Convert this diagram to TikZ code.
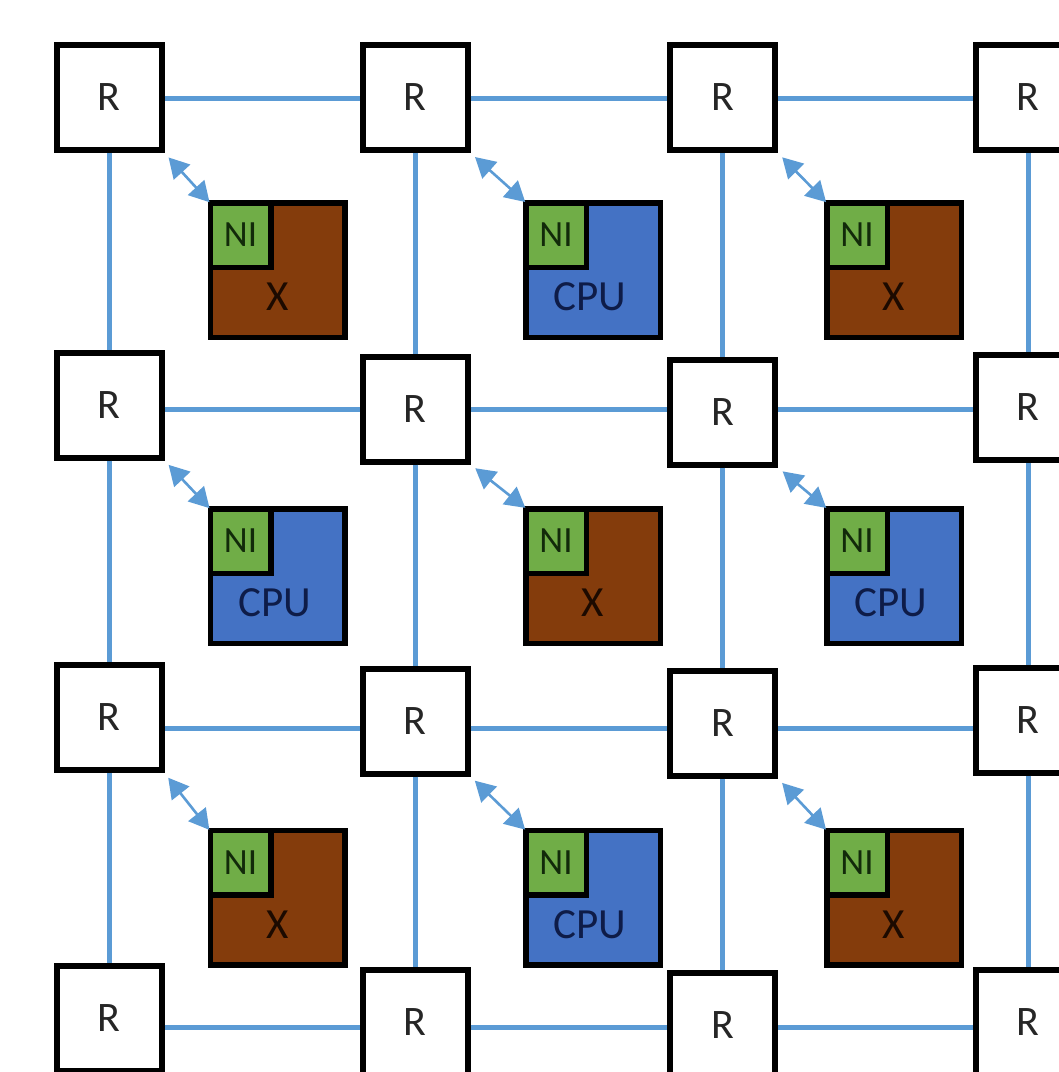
\documentclass[tikz,border=0pt]{standalone}
\usepackage{fontspec}
\setmainfont{Carlito}
\usetikzlibrary{arrows.meta}
\definecolor{linkblue}{HTML}{5B9BD5}
\definecolor{cpublue}{HTML}{4472C4}
\definecolor{xbrown}{HTML}{843C0C}
\definecolor{nigreen}{HTML}{70AD47}
\definecolor{nitext}{RGB}{18,42,10}
\definecolor{cputext}{RGB}{14,28,72}
\definecolor{xtext}{RGB}{28,10,0}

\begin{document}
\begin{tikzpicture}[x=1pt,y=-1pt,
  router/.style={draw=black, line width=6pt, fill=white, minimum size=105pt,
    inner sep=0pt, font=\fontsize{42}{50}\selectfont, text=black!85},
  core/.style={draw=black, line width=5.5pt, minimum size=134.5pt, inner sep=0pt},
  xcore/.style={core, fill=xbrown},
  cpucore/.style={core, fill=cpublue},
  niface/.style={draw=black, line width=5.5pt, fill=nigreen, minimum width=60.5pt,
    minimum height=64.5pt, inner sep=0pt, anchor=north west,
    font=\fontsize{37}{44}\selectfont, text=nitext},
  xlabel/.style={inner sep=0pt, font=\fontsize{43}{50}\selectfont, text=xtext},
  cpulabel/.style={inner sep=0pt, font=\fontsize{43}{50}\selectfont, text=cputext},
  link/.style={draw=linkblue, line width=5pt},
  nilink/.style={draw=linkblue, line width=2.6pt,
    {Triangle[length=20pt,width=22pt]}-{Triangle[length=20pt,width=22pt]},
    shorten <=6pt, shorten >=-3pt}
]
\useasboundingbox (0,0) rectangle (1059,1072);
\clip (0,0) rectangle (1059,1072);

% heights of the horizontal router links, one per row
\coordinate (h1) at (0,98);
\coordinate (h2) at (0,409);
\coordinate (h3) at (0,728);
\coordinate (h4) at (0,1027);

% routers
\node[router] (r11) at (109,97.5) {R};
\node[router] (r12) at (415,97.5) {R};
\node[router] (r13) at (722.5,97.5) {R};
\node[router] (r14) at (1028,97.5) {R};
\node[router] (r21) at (109,405) {R};
\node[router] (r22) at (415,409) {R};
\node[router] (r23) at (722.5,412) {R};
\node[router] (r24) at (1028,407.5) {R};
\node[router] (r31) at (109,717.5) {R};
\node[router] (r32) at (415,721) {R};
\node[router] (r33) at (722.5,723) {R};
\node[router] (r34) at (1028,720) {R};
\node[router] (r41) at (109,1018.5) {R};
\node[router] (r42) at (415,1022.5) {R};
\node[router] (r43) at (722.5,1025.5) {R};
\node[router] (r44) at (1028,1022.5) {R};

% horizontal mesh links
\foreach \r in {1,2,3,4}{
  \draw[link] (r\r1.east |- h\r) -- (r\r2.west |- h\r);
  \draw[link] (r\r2.east |- h\r) -- (r\r3.west |- h\r);
  \draw[link] (r\r3.east |- h\r) -- (r\r4.west |- h\r);
}
% vertical mesh links
\foreach \c in {1,2,3,4}{
  \draw[link] (r1\c.south) -- (r2\c.north);
  \draw[link] (r2\c.south) -- (r3\c.north);
  \draw[link] (r3\c.south) -- (r4\c.north);
}

% processing cores
\node[xcore]   (c11) at (277.5,270) {};
\node[cpucore] (c12) at (593,270) {};
\node[xcore]   (c13) at (894,270) {};
\node[cpucore] (c21) at (277.5,576) {};
\node[xcore]   (c22) at (593,576) {};
\node[cpucore] (c23) at (894,576) {};
\node[xcore]   (c31) at (277.5,897.5) {};
\node[cpucore] (c32) at (593,897.5) {};
\node[xcore]   (c33) at (894,897.5) {};

% core labels
\node[xlabel]   (l11) at ([yshift=-27pt]c11.center) {X};
\node[cpulabel] (l12) at ([xshift=-3pt,yshift=-27pt]c12.center) {CPU};
\node[xlabel]   (l13) at ([yshift=-27pt]c13.center) {X};
\node[cpulabel] (l21) at ([xshift=-3pt,yshift=-27pt]c21.center) {CPU};
\node[xlabel]   (l22) at ([yshift=-27pt]c22.center) {X};
\node[cpulabel] (l23) at ([xshift=-3pt,yshift=-27pt]c23.center) {CPU};
\node[xlabel]   (l31) at ([yshift=-27pt]c31.center) {X};
\node[cpulabel] (l32) at ([xshift=-3pt,yshift=-27pt]c32.center) {CPU};
\node[xlabel]   (l33) at ([yshift=-27pt]c33.center) {X};

% network interfaces and their router links
\foreach \r in {1,2,3}{
  \foreach \c in {1,2,3}{
    \node[niface] (n\r\c) at (c\r\c.north west) {NI};
    \draw[nilink] (r\r\c.south east) -- (n\r\c.north west);
  }
}
\end{tikzpicture}
\end{document}
